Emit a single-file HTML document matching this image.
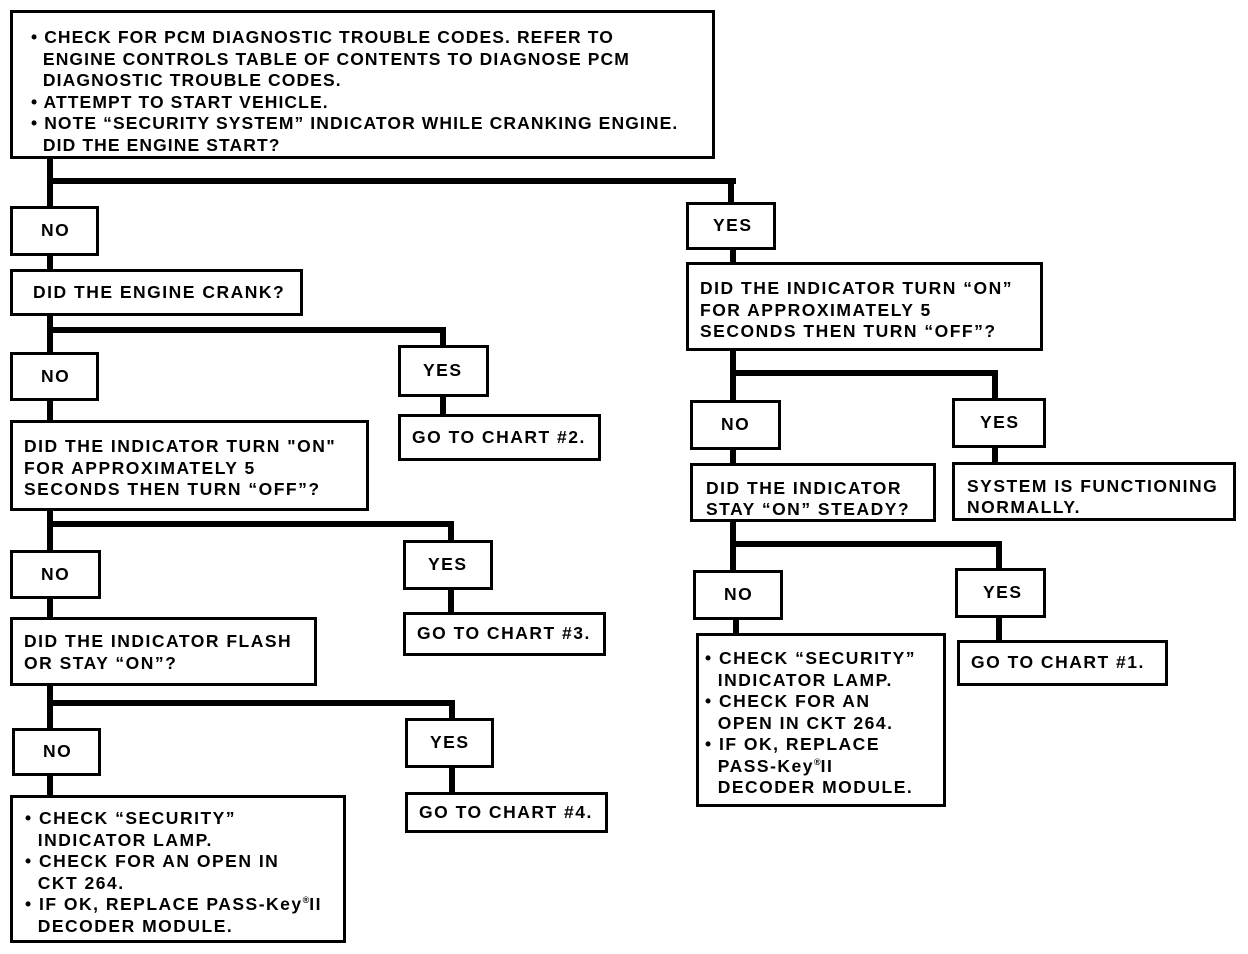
<!DOCTYPE html>
<html><head><meta charset="utf-8"><style>
html,body{margin:0;padding:0;background:#fff;}
body{width:1248px;height:954px;position:relative;overflow:hidden;font-family:"Liberation Sans",Arial,sans-serif;font-weight:bold;color:#000;}
.b{position:absolute;box-sizing:border-box;border:3px solid #000;background:#fff;font-size:17.5px;line-height:21.5px;letter-spacing:1.5px;white-space:pre;}
.c{display:flex;align-items:center;padding-left:0;}
.l{position:absolute;background:#000;}
sup{font-size:9px;line-height:0;vertical-align:7px;letter-spacing:0;}
</style></head><body>
<!-- lines -->
<div class="l" style="left:47px;top:156px;width:6px;height:52px"></div>
<div class="l" style="left:47px;top:178px;width:689px;height:6px"></div>
<div class="l" style="left:728px;top:178px;width:6px;height:25px"></div>
<div class="l" style="left:47px;top:254px;width:6px;height:17px"></div>
<div class="l" style="left:47px;top:314px;width:6px;height:39px"></div>
<div class="l" style="left:47px;top:327px;width:399px;height:6px"></div>
<div class="l" style="left:440px;top:327px;width:6px;height:19px"></div>
<div class="l" style="left:440px;top:396px;width:6px;height:19px"></div>
<div class="l" style="left:47px;top:399px;width:6px;height:22px"></div>
<div class="l" style="left:47px;top:509px;width:6px;height:42px"></div>
<div class="l" style="left:47px;top:521px;width:407px;height:6px"></div>
<div class="l" style="left:448px;top:521px;width:6px;height:20px"></div>
<div class="l" style="left:448px;top:589px;width:6px;height:24px"></div>
<div class="l" style="left:47px;top:597px;width:6px;height:21px"></div>
<div class="l" style="left:47px;top:684px;width:6px;height:45px"></div>
<div class="l" style="left:47px;top:700px;width:408px;height:6px"></div>
<div class="l" style="left:449px;top:700px;width:6px;height:19px"></div>
<div class="l" style="left:449px;top:767px;width:6px;height:26px"></div>
<div class="l" style="left:47px;top:774px;width:6px;height:22px"></div>
<div class="l" style="left:730px;top:249px;width:6px;height:14px"></div>
<div class="l" style="left:730px;top:349px;width:6px;height:52px"></div>
<div class="l" style="left:730px;top:370px;width:268px;height:6px"></div>
<div class="l" style="left:992px;top:370px;width:6px;height:29px"></div>
<div class="l" style="left:992px;top:447px;width:6px;height:16px"></div>
<div class="l" style="left:730px;top:449px;width:6px;height:15px"></div>
<div class="l" style="left:730px;top:521px;width:6px;height:50px"></div>
<div class="l" style="left:730px;top:541px;width:272px;height:6px"></div>
<div class="l" style="left:996px;top:541px;width:6px;height:28px"></div>
<div class="l" style="left:996px;top:617px;width:6px;height:24px"></div>
<div class="l" style="left:733px;top:619px;width:6px;height:15px"></div>

<!-- boxes -->
<div class="b" style="left:10px;top:10px;width:705px;height:149px;padding:14px 0 0 18px;letter-spacing:1.1px">• CHECK FOR PCM DIAGNOSTIC TROUBLE CODES. REFER TO
  ENGINE CONTROLS TABLE OF CONTENTS TO DIAGNOSE PCM
  DIAGNOSTIC TROUBLE CODES.
• ATTEMPT TO START VEHICLE.
• NOTE “SECURITY SYSTEM” INDICATOR WHILE CRANKING ENGINE.
  DID THE ENGINE START?</div>

<div class="b c" style="left:10px;top:206px;width:89px;height:50px;padding-left:28px">NO</div>
<div class="b c" style="left:10px;top:269px;width:293px;height:47px;padding-left:20px">DID THE ENGINE CRANK?</div>
<div class="b c" style="left:10px;top:352px;width:89px;height:49px;padding-left:28px">NO</div>
<div class="b c" style="left:398px;top:345px;width:91px;height:52px;padding-left:22px">YES</div>
<div class="b c" style="left:398px;top:414px;width:203px;height:47px;padding-left:11px">GO TO CHART #2.</div>
<div class="b" style="left:10px;top:420px;width:359px;height:91px;padding:13px 0 0 11px">DID THE INDICATOR TURN "ON"
FOR APPROXIMATELY 5
SECONDS THEN TURN “OFF”?</div>
<div class="b c" style="left:10px;top:550px;width:91px;height:49px;padding-left:28px">NO</div>
<div class="b c" style="left:403px;top:540px;width:90px;height:50px;padding-left:22px">YES</div>
<div class="b c" style="left:403px;top:612px;width:203px;height:44px;padding-left:11px">GO TO CHART #3.</div>
<div class="b" style="left:10px;top:617px;width:307px;height:69px;padding:11px 0 0 11px">DID THE INDICATOR FLASH
OR STAY “ON”?</div>
<div class="b c" style="left:12px;top:728px;width:89px;height:48px;padding-left:28px">NO</div>
<div class="b c" style="left:405px;top:718px;width:89px;height:50px;padding-left:22px">YES</div>
<div class="b c" style="left:405px;top:792px;width:203px;height:41px;padding-left:11px">GO TO CHART #4.</div>
<div class="b" style="left:10px;top:795px;width:336px;height:148px;padding:10px 0 0 12px">• CHECK “SECURITY”
  INDICATOR LAMP.
• CHECK FOR AN OPEN IN
  CKT 264.
• IF OK, REPLACE PASS-Key<sup>®</sup>II
  DECODER MODULE.</div>

<div class="b c" style="left:686px;top:202px;width:90px;height:48px;padding-left:24px">YES</div>
<div class="b" style="left:686px;top:262px;width:357px;height:89px;padding:13px 0 0 11px">DID THE INDICATOR TURN “ON”
FOR APPROXIMATELY 5
SECONDS THEN TURN “OFF”?</div>
<div class="b c" style="left:690px;top:400px;width:91px;height:50px;padding-left:28px">NO</div>
<div class="b c" style="left:952px;top:398px;width:94px;height:50px;padding-left:25px">YES</div>
<div class="b" style="left:690px;top:463px;width:246px;height:59px;padding:12px 0 0 13px;line-height:21px">DID THE INDICATOR
STAY “ON” STEADY?</div>
<div class="b" style="left:952px;top:462px;width:284px;height:59px;padding:11px 0 0 12px;line-height:21px">SYSTEM IS FUNCTIONING
NORMALLY.</div>
<div class="b c" style="left:693px;top:570px;width:90px;height:50px;padding-left:28px">NO</div>
<div class="b c" style="left:955px;top:568px;width:91px;height:50px;padding-left:25px">YES</div>
<div class="b" style="left:696px;top:633px;width:250px;height:174px;padding:12px 0 0 6px">• CHECK “SECURITY”
  INDICATOR LAMP.
• CHECK FOR AN
  OPEN IN CKT 264.
• IF OK, REPLACE
  PASS-Key<sup>®</sup>II
  DECODER MODULE.</div>
<div class="b c" style="left:957px;top:640px;width:211px;height:46px;padding-left:11px">GO TO CHART #1.</div>
</body></html>
